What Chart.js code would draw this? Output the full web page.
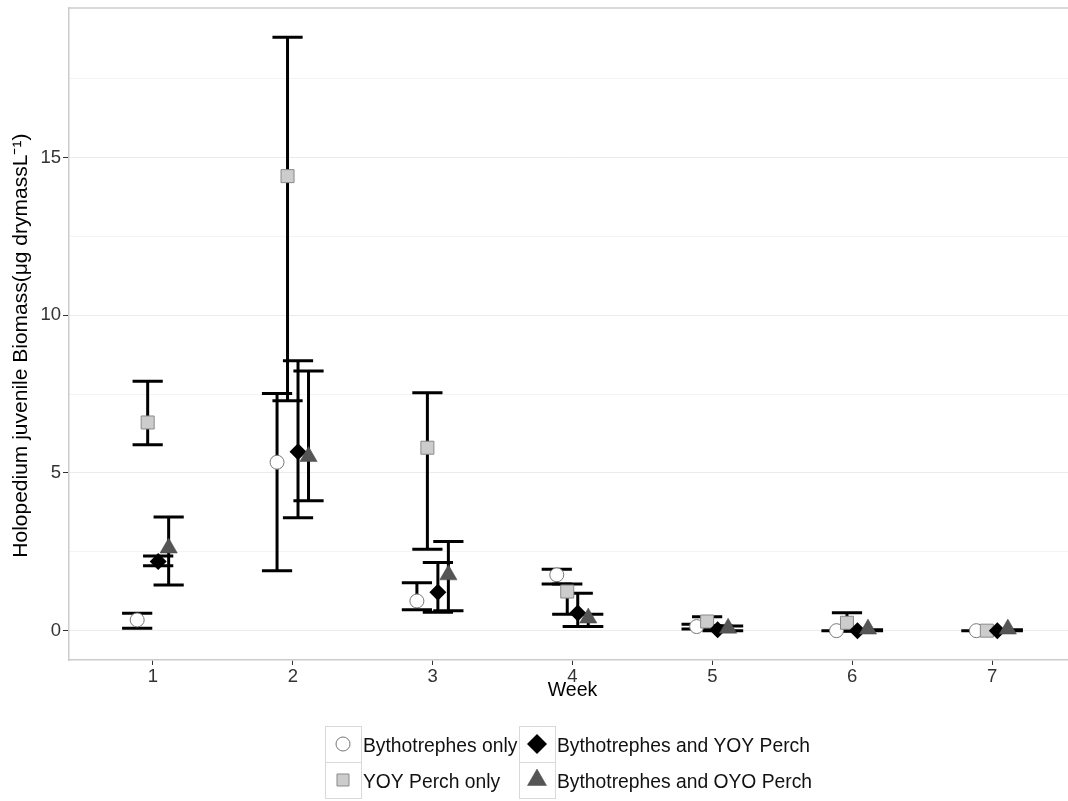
<!DOCTYPE html>
<html>
<head>
<meta charset="utf-8">
<script src="https://cdn.jsdelivr.net/npm/chart.js@4.4.1/dist/chart.umd.min.js"></script>
<style>
  html, body { margin: 0; padding: 0; background: #fff; overflow: hidden; width: 1068px; height: 801px; }
  #wrap { width: 1076px; height: 801px; position: relative; }
</style>
</head>
<body>
<div id="wrap"><canvas id="chart"></canvas></div>
<script>
// --- data ---
const weeks = [1, 2, 3, 4, 5, 6, 7];
const groupNames = ['Bythotrephes only', 'YOY Perch only', 'Bythotrephes and YOY Perch', 'Bythotrephes and OYO Perch'];

const bythoOnly   = [0.34, 5.34, 0.94, 1.77, 0.13, 0.00, 0.00];
const bythoOnlyLo = [0.08, 1.90, 0.66, 1.48, 0.05, 0.00, 0.00];
const bythoOnlyHi = [0.55, 7.52, 1.52, 1.95, 0.20, 0.00, 0.00];

const yoyOnly   = [6.60, 14.41, 5.80, 1.24, 0.29, 0.25, 0.00];
const yoyOnlyLo = [5.89, 7.29, 2.58, 0.52, 0.15, 0.02, 0.00];
const yoyOnlyHi = [7.91, 18.81, 7.54, 1.48, 0.44, 0.57, 0.00];

const bythoYoy   = [2.19, 5.67, 1.22, 0.56, 0.03, 0.00, 0.00];
const bythoYoyLo = [2.06, 3.58, 0.58, 0.13, 0.00, -0.02, 0.00];
const bythoYoyHi = [2.37, 8.56, 2.16, 1.19, 0.15, 0.03, 0.00];

const bythoOyo   = [2.62, 5.52, 1.77, 0.40, 0.08, 0.05, 0.05];
const bythoOyoLo = [1.45, 4.12, 0.63, 0.13, 0.00, 0.00, 0.00];
const bythoOyoHi = [3.60, 8.23, 2.83, 0.52, 0.15, 0.03, 0.03];

const yTicks = [0, 2.5, 5, 7.5, 10, 12.5, 15, 17.5];

// --- styles ---
const FONT = "'Liberation Sans', Arial, Helvetica, sans-serif";
const dodge = [-0.1125, -0.0375, 0.0375, 0.1125];
const capHalf = 0.108;

const styles = [
  { pointStyle: 'circle',   radius: 7,   fill: '#ffffff', stroke: '#777777', bw: 1 },
  { pointStyle: 'rect',     radius: 9.2, fill: '#cccccc', stroke: '#8a8a8a', bw: 1 },
  { pointStyle: 'rectRot',  radius: 8.5, fill: '#000000', stroke: '#000000', bw: 0 },
  { pointStyle: 'triangle', radius: 10,  fill: '#555555', stroke: '#4a4a4a', bw: 0.5 }
];

const series = [
  { mean: bythoOnly, lo: bythoOnlyLo, hi: bythoOnlyHi },
  { mean: yoyOnly,   lo: yoyOnlyLo,   hi: yoyOnlyHi },
  { mean: bythoYoy,  lo: bythoYoyLo,  hi: bythoYoyHi },
  { mean: bythoOyo,  lo: bythoOyoLo,  hi: bythoOyoHi }
];

const datasets = series.map((s, g) => ({
  label: groupNames[g],
  data: weeks.map((w, i) => ({ x: w + dodge[g], y: s.mean[i] })),
  errLo: s.lo,
  errHi: s.hi,
  order: 4 - g,
  pointStyle: styles[g].pointStyle,
  pointRadius: styles[g].radius,
  pointHoverRadius: styles[g].radius,
  pointBackgroundColor: styles[g].fill,
  pointBorderColor: styles[g].stroke,
  pointBorderWidth: styles[g].bw,
  pointHoverBorderWidth: styles[g].bw
}));

// barras de erro, desenhadas por baixo dos pontos
const errorBars = {
  id: 'errorBars',
  beforeDatasetsDraw(chart) {
    const { ctx, chartArea, scales: { x, y } } = chart;
    ctx.save();
    // borda superior do painel
    ctx.strokeStyle = '#cccccc';
    ctx.lineWidth = 1.5;
    ctx.beginPath();
    ctx.moveTo(chartArea.left, chartArea.top);
    ctx.lineTo(chartArea.right, chartArea.top);
    ctx.stroke();

    ctx.strokeStyle = '#000';
    ctx.lineWidth = 3;
    ctx.lineCap = 'butt';
    chart.data.datasets.forEach(ds => {
      ds.data.forEach((p, i) => {
        const px = x.getPixelForValue(p.x);
        const x0 = x.getPixelForValue(p.x - capHalf);
        const x1 = x.getPixelForValue(p.x + capHalf);
        const yl = y.getPixelForValue(ds.errLo[i]);
        const yh = y.getPixelForValue(ds.errHi[i]);
        ctx.beginPath();
        ctx.moveTo(px, yl); ctx.lineTo(px, yh);
        ctx.moveTo(x0, yl); ctx.lineTo(x1, yl);
        ctx.moveTo(x0, yh); ctx.lineTo(x1, yh);
        ctx.stroke();
      });
    });
    ctx.restore();
  }
};

// legenda 2x2 no estilo ggplot
const ggLegend = {
  id: 'ggLegend',
  afterDraw(chart) {
    const ctx = chart.ctx;
    const boxX = [325, 519];
    const boxY = [726, 762];
    const size = 36;
    const order = [[0, 1], [2, 3]]; // [col][row]
    ctx.save();
    ctx.font = '19.3px ' + FONT;
    ctx.textBaseline = 'middle';
    ctx.textAlign = 'left';
    for (let c = 0; c < 2; c++) {
      for (let r = 0; r < 2; r++) {
        const g = order[c][r];
        const bx = boxX[c], by = boxY[r];
        ctx.fillStyle = '#ffffff';
        ctx.fillRect(bx, by, size, size);
        ctx.strokeStyle = '#d9d9d9';
        ctx.lineWidth = 1;
        ctx.strokeRect(bx + 0.5, by + 0.5, size, size);
        const st = styles[g];
        ctx.fillStyle = st.fill;
        ctx.strokeStyle = st.stroke;
        ctx.lineWidth = st.bw;
        const rad = st.pointStyle === 'circle' ? 7 : st.pointStyle === 'rect' ? 8.5 : st.pointStyle === 'rectRot' ? 10 : 11;
        Chart.helpers.drawPoint(ctx, { pointStyle: st.pointStyle, radius: rad, rotation: 0, borderWidth: st.bw },
          bx + size / 2, by + size / 2);
        ctx.fillStyle = '#111111';
        ctx.fillText(groupNames[g], bx + size + 2, by + size / 2 + 3);
      }
    }
    ctx.restore();
  }
};

new Chart(document.getElementById('chart'), {
  type: 'scatter',
  data: { datasets },
  options: {
    responsive: true,
    maintainAspectRatio: false,
    animation: false,
    layout: { autoPadding: false, padding: { left: 0, right: 0, top: 8, bottom: 0 } },
    plugins: { legend: { display: false }, tooltip: { enabled: false } },
    scales: {
      x: {
        type: 'linear',
        min: 0.4,
        max: 7.6,
        afterBuildTicks: axis => { axis.ticks = weeks.map(v => ({ value: v })); },
        afterFit: axis => { axis.height = 141; axis.paddingLeft = 0; axis.paddingRight = 0; },
        grid: { drawOnChartArea: false, tickColor: '#333333', tickLength: 5, lineWidth: 1 },
        border: { color: '#cccccc', width: 1.5 },
        ticks: { color: '#333333', font: { size: 18.5, family: FONT }, padding: 1, maxRotation: 0 },
        title: { display: true, text: 'Week', color: '#000', font: { size: 19.5, family: FONT }, padding: { top: 0, bottom: 99 } }
      },
      y: {
        min: -0.93,
        max: 19.74,
        afterBuildTicks: axis => { axis.ticks = yTicks.map(v => ({ value: v })); },
        afterFit: axis => { axis.width = 69; axis.paddingTop = 0; axis.paddingBottom = 0; },
        grid: {
          color: c => (c.tick && c.tick.value % 5 === 0) ? '#ebebeb' : '#f4f4f4',
          tickColor: c => (c.tick && c.tick.value % 5 === 0) ? '#333333' : 'rgba(0,0,0,0)',
          tickLength: 6,
          lineWidth: 1
        },
        border: { color: '#cccccc', width: 1.5 },
        ticks: {
          color: '#333333',
          font: { size: 18.5, family: FONT },
          padding: 2,
          callback: v => (v % 5 === 0 ? String(v) : '')
        },
        title: {
          display: true,
          text: 'Holopedium juvenile Biomass(\u03bcg drymassL\u207b\u00b9)    ',
          color: '#000',
          font: { size: 21, family: FONT },
          padding: { top: 9, bottom: 0 }
        }
      }
    }
  },
  plugins: [errorBars, ggLegend]
});
</script>
</body>
</html>
